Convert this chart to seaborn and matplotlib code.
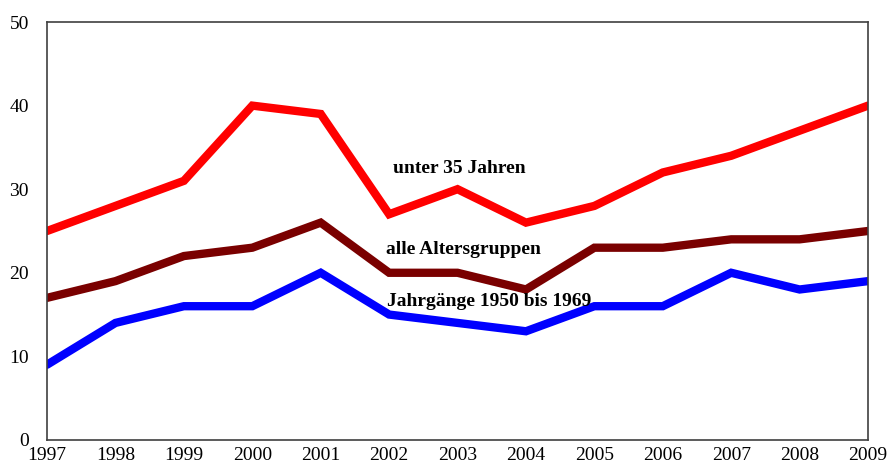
import pandas as pd
import matplotlib.pyplot as plt
import seaborn as sns

years = list(range(1997, 2010))
unter_35 = [25, 28, 31, 40, 39, 27, 30, 26, 28, 32, 34, 37, 40]
alle = [17, 19, 22, 23, 26, 20, 20, 18, 23, 23, 24, 24, 25]
jahrgaenge = [9, 14, 16, 16, 20, 15, 14, 13, 16, 16, 20, 18, 19]

series_names = ["unter 35 Jahren", "alle Altersgruppen", "Jahrgänge 1950 bis 1969"]
colors = ["#ff0000", "#7a0000", "#0000ff"]

# long format for seaborn
df = pd.DataFrame({
    "Jahr": years * 3,
    "Wert": unter_35 + alle + jahrgaenge,
    "Gruppe": [n for n in series_names for _ in years],
})

sns.set_style("white")
plt.rcParams["font.family"] = ["Liberation Serif", "DejaVu Serif"]
plt.rcParams["text.color"] = "black"

fig = plt.figure(figsize=(8.88, 4.69), dpi=100)
ax = fig.add_axes([0.053, 0.062, 0.9245, 0.891])

sns.lineplot(data=df, x="Jahr", y="Wert", hue="Gruppe", hue_order=series_names,
             palette=colors, linewidth=6, legend=False, ax=ax,
             solid_capstyle="round", solid_joinstyle="miter")

ax.set_xlim(1997, 2009)
ax.set_ylim(0, 50)
ax.set_xticks(years)
ax.set_yticks(range(0, 51, 10))
ax.tick_params(axis="both", length=0, labelsize=14, colors="black")
ax.tick_params(axis="y", pad=13)
ax.tick_params(axis="x", pad=5)
ax.set_xlabel("")
ax.set_ylabel("")
for s in ax.spines.values():
    s.set_color("#404040")
    s.set_linewidth(1.2)

# labels placed beside the lines
lbl = dict(fontsize=14, fontweight="bold", va="center", color="black")
ax.text(2002.05, 32.5, "unter 35 Jahren", **lbl)
ax.text(2001.95, 22.8, "alle Altersgruppen", **lbl)
ax.text(2001.97, 16.6, "Jahrgänge 1950 bis 1969", **lbl)

fig.savefig("out.png", dpi=100)
